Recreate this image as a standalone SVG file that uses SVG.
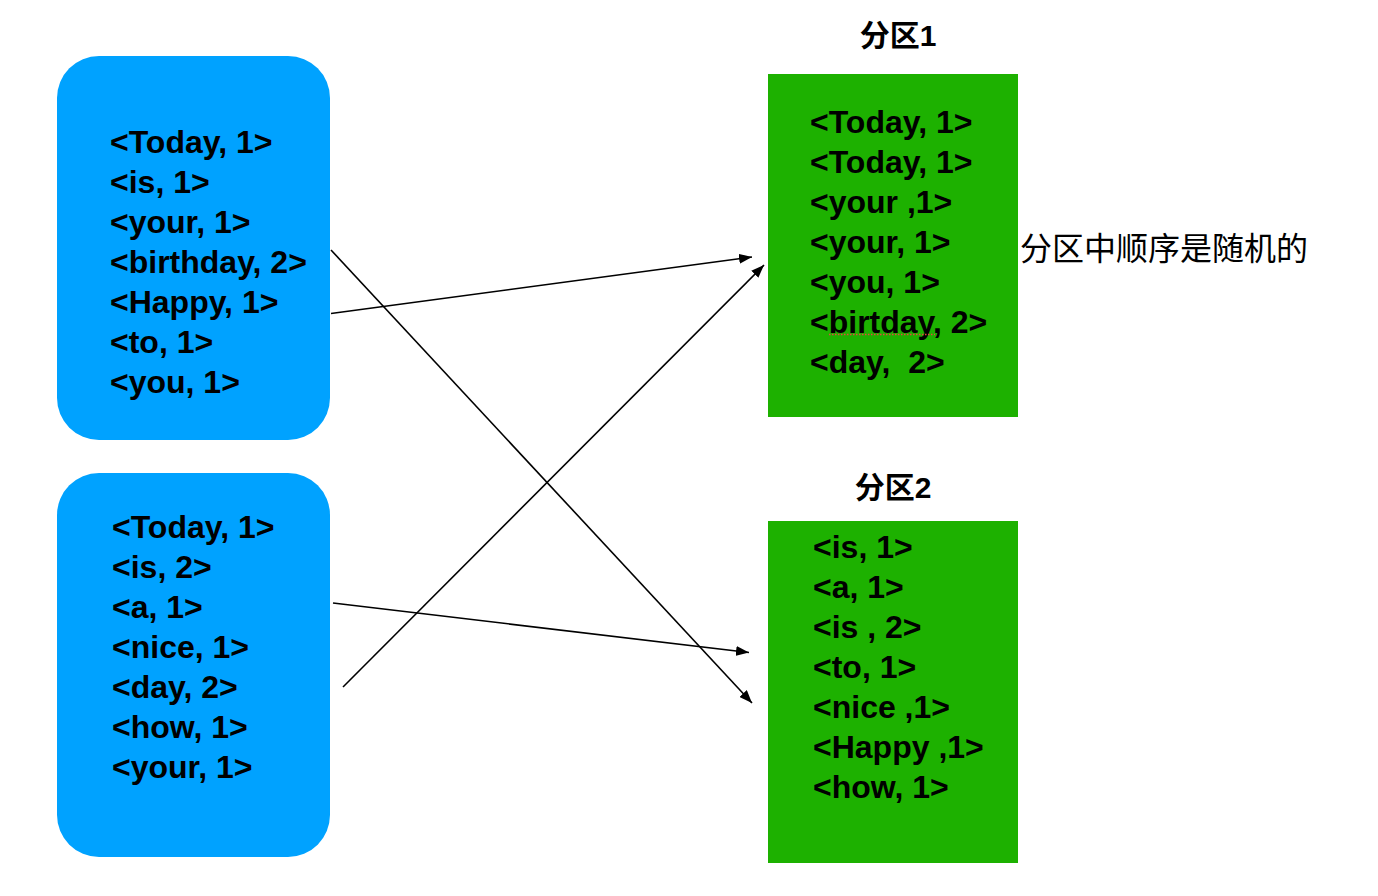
<svg xmlns="http://www.w3.org/2000/svg" width="1378" height="896" viewBox="0 0 1378 896">
<defs>
<style>
.blue{fill:#00A2FF}
.green{fill:#1DB100}
.t{font-family:"Liberation Sans",Arial,"Noto Sans CJK SC",sans-serif;font-weight:bold;font-size:32px;fill:#000}
.title{font-family:"Liberation Sans","Noto Sans CJK SC",sans-serif;font-weight:bold;font-size:30px;fill:#000}
.note{font-family:"Noto Sans CJK SC",sans-serif;font-size:32px;fill:#000}
.conn line{stroke:#000;stroke-width:1.6;fill:none;marker-end:url(#arr)}
</style>
<marker id="arr" markerUnits="userSpaceOnUse" markerWidth="14" markerHeight="10" refX="13" refY="5" orient="auto">
<path d="M0,0 L13,5 L0,10 z" fill="#000"/>
</marker>
</defs>
<rect width="1378" height="896" fill="#fff"/>
<g id="src1">
<rect class="blue" x="57" y="56" width="273" height="384" rx="42" ry="42"/>
<text class="t" x="110" y="153">&lt;Today, 1&gt;</text>
<text class="t" x="110" y="193">&lt;is, 1&gt;</text>
<text class="t" x="110" y="233">&lt;your, 1&gt;</text>
<text class="t" x="110" y="273">&lt;birthday, 2&gt;</text>
<text class="t" x="110" y="313">&lt;Happy, 1&gt;</text>
<text class="t" x="110" y="353">&lt;to, 1&gt;</text>
<text class="t" x="110" y="393">&lt;you, 1&gt;</text>
</g>
<g id="src2">
<rect class="blue" x="57" y="473" width="273" height="384" rx="42" ry="42"/>
<text class="t" x="112" y="538">&lt;Today, 1&gt;</text>
<text class="t" x="112" y="578">&lt;is, 2&gt;</text>
<text class="t" x="112" y="618">&lt;a, 1&gt;</text>
<text class="t" x="112" y="658">&lt;nice, 1&gt;</text>
<text class="t" x="112" y="698">&lt;day, 2&gt;</text>
<text class="t" x="112" y="738">&lt;how, 1&gt;</text>
<text class="t" x="112" y="778">&lt;your, 1&gt;</text>
</g>
<g id="part1">
<text class="title" x="898" y="46" text-anchor="middle">分区1</text>
<rect class="green" x="768" y="74" width="250" height="343"/>
<text class="t" x="810" y="133">&lt;Today, 1&gt;</text>
<text class="t" x="810" y="173">&lt;Today, 1&gt;</text>
<text class="t" x="810" y="213">&lt;your ,1&gt;</text>
<text class="t" x="810" y="253">&lt;your, 1&gt;</text>
<text class="t" x="810" y="293">&lt;you, 1&gt;</text>
<text class="t" x="810" y="333">&lt;birtday, 2&gt;</text>
<line x1="829" y1="334.5" x2="935" y2="334.5" stroke="#E8453C" stroke-width="1.5" stroke-dasharray="1.5 1.5"/>
<text class="t" x="810" y="373" xml:space="preserve">&lt;day,  2&gt;</text>
</g>
<g id="part2">
<text class="title" x="893" y="498" text-anchor="middle">分区2</text>
<rect class="green" x="768" y="521" width="250" height="342"/>
<text class="t" x="813" y="558">&lt;is, 1&gt;</text>
<text class="t" x="813" y="598">&lt;a, 1&gt;</text>
<text class="t" x="813" y="638">&lt;is , 2&gt;</text>
<text class="t" x="813" y="678">&lt;to, 1&gt;</text>
<text class="t" x="813" y="718">&lt;nice ,1&gt;</text>
<text class="t" x="813" y="758">&lt;Happy ,1&gt;</text>
<text class="t" x="813" y="798">&lt;how, 1&gt;</text>
</g>
<g id="note">
<text class="note" x="1020" y="260">分区中顺序是随机的</text>
</g>
<g id="connectors" class="conn">
<line x1="331" y1="313.5" x2="752" y2="257"/>
<line x1="343" y1="687" x2="764" y2="265"/>
<line x1="333" y1="603" x2="749" y2="652.5"/>
<line x1="331" y1="250" x2="752" y2="703"/>
</g>
</svg>
